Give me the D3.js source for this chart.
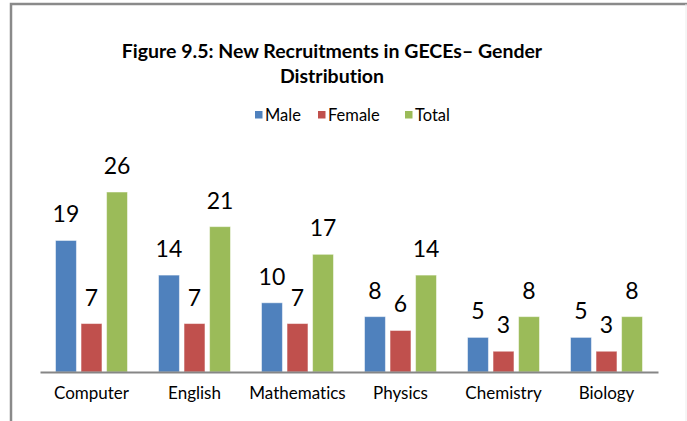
<!DOCTYPE html>
<html>
<head>
<meta charset="utf-8">
<script src="https://cdn.jsdelivr.net/npm/d3@7"></script>
<style>
  body { margin: 0; background: #fff; }
  svg { display: block; font-family: Lato, "Open Sans", sans-serif; font-variant-ligatures: none; }
</style>
</head>
<body>
<svg id="chart"></svg>
<script>
// DATA
const categories = ["Computer", "English", "Mathematics", "Physics", "Chemistry", "Biology"];
const seriesNames = ["Male", "Female", "Total"];
const male = [19, 14, 10, 8, 5, 5];
const female = [7, 7, 7, 6, 3, 3];
const total = [26, 21, 17, 14, 8, 8];
const colors = ["#4F81BD", "#C0504D", "#9BBB59"];

const width = 687;
const height = 421;

const svg = d3.select("#chart").attr("width", width).attr("height", height);

// frame
svg.append("path")
  .attr("d", `M11,${height} V4 H${width}`)
  .attr("fill", "none")
  .attr("stroke", "#8a8a8a")
  .attr("stroke-width", 2.5);
svg.append("line")
  .attr("x1", 686).attr("x2", 686).attr("y1", 4).attr("y2", height)
  .attr("stroke", "#ececec");

// title
const title = svg.append("text")
  .attr("text-anchor", "middle")
  .attr("font-weight", "bold")
  .attr("font-size", 19.5)
  .attr("fill", "#000");
title.append("tspan").attr("x", 332).attr("y", 58).text("Figure 9.5: New Recruitments in GECEs– Gender");
title.append("tspan").attr("x", 332).attr("y", 83).text("Distribution");

// legend
const legendX = [255, 318, 405];
const legend = svg.append("g");
seriesNames.forEach((name, i) => {
  legend.append("rect")
    .attr("x", legendX[i]).attr("y", 111)
    .attr("width", 7.5).attr("height", 7.5)
    .attr("fill", colors[i]);
  legend.append("text")
    .attr("x", legendX[i] + 10).attr("y", 120.5)
    .attr("font-size", 16.5)
    .text(name);
});

// scales
const x0 = d3.scaleBand().domain(categories).range([40, 658]);
const x1 = d3.scaleBand().domain(seriesNames).range([15.5, 87.5]).paddingInner(0.18);
const y = d3.scaleLinear().domain([0, 26]).range([372, 192]);

const rows = categories.map((c, i) => ({
  cat: c,
  vals: [male[i], female[i], total[i]]
}));

const groups = svg.append("g")
  .selectAll("g")
  .data(rows)
  .enter()
  .append("g")
  .attr("transform", (d) => `translate(${x0(d.cat)},0)`);

groups.selectAll("rect")
  .data((d) => d.vals.map((v, i) => ({ v, s: seriesNames[i], c: colors[i] })))
  .enter()
  .append("rect")
  .attr("x", (d) => x1(d.s))
  .attr("width", x1.bandwidth())
  .attr("y", (d) => y(d.v))
  .attr("height", (d) => y(0) - y(d.v))
  .attr("fill", (d) => d.c)
  .attr("stroke", "rgba(255,255,255,0.5)")
  .attr("stroke-width", 1);

groups.selectAll("text")
  .data((d) => d.vals.map((v, i) => ({ v, s: seriesNames[i] })))
  .enter()
  .append("text")
  .attr("x", (d) => x1(d.s) + x1.bandwidth() / 2)
  .attr("y", (d) => y(d.v) - 18)
  .attr("text-anchor", "middle")
  .attr("font-size", 23)
  .text((d) => d.v);

// axis
const axis = svg.append("g")
  .attr("transform", `translate(0,${y(0)})`)
  .call(d3.axisBottom(x0).tickSize(0).tickPadding(15));
axis.select(".domain").attr("stroke", "#868686").attr("stroke-width", 2);
axis.selectAll(".tick text")
  .attr("font-size", 17)
  .attr("font-family", "Lato, 'Open Sans', sans-serif")
  .attr("fill", "#000");
</script>
</body>
</html>
